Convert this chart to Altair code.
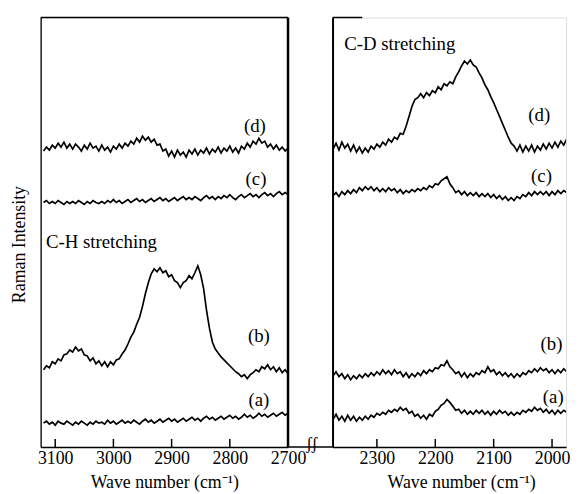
import altair as alt
import pandas as pd

FONT = "Liberation Serif"
FS_LAB = 18
FS_TITLE = 18
FS_TXT = 19

# ---------------- data ----------------
left_wn = list(range(3120, 2695, -5))  # 85 points, cm-1
left_d = [299, 303, 300, 305, 302, 307, 303, 308, 302, 306,
          301, 306, 303, 299, 305, 301, 307, 302, 304, 299,
          305, 300, 303, 298, 304, 301, 306, 302, 307, 304,
          309, 306, 312, 308, 314, 310, 313, 308, 311, 305,
          306, 299, 301, 294, 299, 293, 300, 295, 298, 293,
          300, 296, 301, 295, 300, 297, 302, 296, 301, 298,
          303, 297, 302, 299, 304, 298, 302, 297, 304, 301,
          307, 303, 309, 306, 312, 307, 309, 303, 306, 301,
          305, 300, 303, 299, 302]
left_c = [247, 249, 246, 248, 246, 249, 247, 245, 248, 246,
          248, 246, 249, 247, 245, 248, 246, 249, 247, 246,
          248, 246, 249, 247, 250, 247, 249, 246, 248, 250,
          247, 249, 251, 248, 250, 247, 249, 251, 248, 250,
          252, 249, 251, 248, 250, 252, 249, 251, 253, 250,
          252, 250, 253, 251, 249, 252, 254, 251, 253, 250,
          253, 251, 254, 252, 255, 252, 250, 253, 255, 252,
          254, 256, 253, 255, 252, 255, 257, 254, 256, 253,
          256, 258, 255, 257, 255]
left_b = [78, 82, 80, 86, 84, 89, 87, 93, 94, 98,
          96, 101, 97, 99, 93, 92, 87, 90, 84, 87,
          82, 86, 81, 86, 83, 88, 89, 94, 98, 104,
          111, 116, 124, 131, 142, 155, 166, 175, 180, 177,
          181, 176, 178, 172, 174, 168, 166, 161, 166, 168,
          173, 170, 176, 183, 174, 160, 138, 120, 106, 99,
          95, 91, 88, 85, 82, 79, 76, 74, 71, 73,
          69, 73, 75, 78, 76, 81, 79, 83, 78, 81,
          76, 80, 75, 78, 74]
left_a = [24, 26, 23, 25, 22, 26, 24, 23, 26, 24,
          22, 25, 23, 26, 24, 22, 25, 23, 26, 24,
          25, 23, 27, 24, 26, 23, 25, 27, 24, 26,
          24, 27, 25, 23, 26, 28, 25, 27, 24, 26,
          28, 25, 27, 29, 26, 28, 25, 27, 29, 26,
          28, 30, 27, 29, 26, 29, 31, 28, 30, 27,
          29, 31, 28, 30, 32, 29, 31, 28, 30, 33,
          30, 32, 29, 31, 34, 31, 33, 30, 32, 34,
          31, 33, 35, 32, 34]

right_wn = list(range(2375, 1970, -5))  # 81 points, cm-1
right_d = [301, 307, 300, 308, 302, 306, 299, 305, 298, 303,
           297, 302, 298, 304, 301, 306, 303, 308, 305, 311,
           308, 313, 311, 317, 316, 324, 334, 344, 351, 353,
           357, 353, 358, 355, 360, 358, 364, 361, 367, 365,
           369, 367, 374, 379, 385, 390, 387, 391, 386, 384,
           378, 373, 366, 361, 354, 348, 341, 334, 327, 320,
           313, 307, 304, 299, 305, 298, 304, 299, 305, 298,
           304, 300, 306, 301, 307, 302, 308, 303, 309, 305,
           311]
right_c = [254, 257, 253, 258, 255, 259, 256, 260, 257, 262,
           259, 263, 260, 263, 259, 262, 258, 261, 258, 262,
           259, 261, 257, 260, 256, 259, 257, 260, 258, 261,
           259, 262, 260, 264, 262, 266, 265, 269, 271, 273,
           266, 262, 257, 259, 255, 258, 254, 257, 254, 257,
           253, 256, 253, 256, 252, 255, 251, 254, 250, 253,
           249, 252, 249, 253, 251, 255, 253, 257, 254, 258,
           255, 258, 255, 258, 254, 258, 255, 259, 256, 259,
           257]
right_b = [72, 76, 71, 74, 69, 73, 68, 72, 69, 73,
           70, 74, 71, 75, 72, 76, 73, 78, 74, 77,
           73, 78, 74, 76, 71, 75, 70, 74, 71, 75,
           72, 77, 74, 78, 76, 80, 79, 83, 82, 87,
           81, 78, 74, 76, 71, 75, 70, 74, 71, 75,
           73, 77, 75, 81, 76, 78, 73, 76, 72, 75,
           71, 74, 70, 74, 71, 75, 73, 77, 75, 79,
           76, 80, 77, 79, 75, 78, 74, 78, 75, 79,
           76]
right_a = [28, 33, 27, 31, 26, 32, 27, 31, 26, 30,
           27, 31, 28, 32, 30, 34, 32, 35, 33, 37,
           35, 38, 36, 40, 37, 39, 34, 36, 31, 33,
           29, 32, 28, 33, 31, 36, 38, 42, 44, 48,
           45, 41, 37, 38, 34, 37, 33, 36, 33, 37,
           34, 37, 33, 36, 32, 36, 33, 37, 34, 36,
           32, 35, 32, 35, 33, 37, 35, 38, 36, 40,
           37, 39, 35, 38, 34, 37, 33, 37, 34, 37,
           35]

left_ticks = [3100, 3000, 2900, 2800, 2700]
right_ticks = [2300, 2200, 2100, 2000]

left_tags = ["(d)", "(c)", "(b)", "(a)"]
left_tag_wn = [2757, 2755, 2750, 2750]
left_tag_int = [324, 271, 112, 47]
left_head = ["C-H stretching"]
left_head_wn = [3116]
left_head_int = [207]

right_tags = ["(d)", "(c)", "(b)", "(a)"]
right_tag_wn = [2022, 2018, 2001, 1998]
right_tag_int = [335, 274, 104, 50]
right_head = ["C-D stretching"]
right_head_wn = [2356]
right_head_int = [407]

XTITLE = "Wave number (cm\u207b\u00b9)"
H = 434


def long_df(wn, series):
    rows = []
    for name, vals in series.items():
        for w, v in zip(wn, vals):
            rows.append({"wn": w, "I": v, "s": name})
    return pd.DataFrame(rows)


def panel(df, dom, ticks, width, tags, tag_wn, tag_int, head, head_wn, head_int,
          ytitle, is_left):
    xaxis = dict(values=ticks, ticks=False, tickSize=0, grid=False, labelFlush=False,
                 format="d", domainColor="black", domainWidth=1.5,
                 labelFont=FONT, labelFontSize=FS_LAB, labelColor="black",
                 labelPadding=3, title=XTITLE, titleFont=FONT,
                 titleFontSize=FS_TITLE, titleFontWeight="normal",
                 titleColor="black", titlePadding=6)
    if not is_left:
        xaxis.update(titleX=130)
    x_enc = alt.X("wn:Q",
                  scale=alt.Scale(domain=dom, nice=False, zero=False),
                  axis=alt.Axis(**xaxis))
    yaxis = dict(labels=False, ticks=False, tickSize=0, grid=False,
                 domainColor="black", domainWidth=1.3 if is_left else 2)
    if ytitle:
        yaxis.update(title=ytitle, titleFont=FONT, titleFontSize=FS_LAB,
                     titleFontWeight="normal", titleColor="black", titlePadding=12,
                     titleY=229)
        y_enc = alt.Y("I:Q", scale=alt.Scale(domain=[0, H], nice=False),
                      axis=alt.Axis(**yaxis))
    else:
        y_enc = alt.Y("I:Q", scale=alt.Scale(domain=[0, H], nice=False),
                      axis=alt.Axis(**yaxis), title=None)

    lines = alt.Chart(df).mark_line(color="black", strokeWidth=1.7, clip=True).encode(
        x=x_enc, y=y_enc, detail="s:N")
    tick_rules = alt.Chart(pd.DataFrame({"wn": ticks})).mark_rule(
        color="black", strokeWidth=1.5).encode(
        x=x_enc, y=alt.value(H), y2=alt.value(H - 8))
    tag_txt = alt.Chart(pd.DataFrame({"t": tags, "wn": tag_wn, "I": tag_int})).mark_text(
        font=FONT, fontSize=FS_TXT, color="black", align="center", baseline="middle").encode(
        x=x_enc, y=y_enc, text="t:N")
    head_txt = alt.Chart(pd.DataFrame({"t": head, "wn": head_wn, "I": head_int})).mark_text(
        font=FONT, fontSize=FS_TXT, color="black", align="left", baseline="middle").encode(
        x=x_enc, y=y_enc, text="t:N")
    one = pd.DataFrame({"k": [0]})
    layers = [lines, tick_rules, tag_txt, head_txt]
    if is_left:
        layers += [
            alt.Chart(one).mark_rule(color="black", strokeWidth=1.5).encode(
                x=alt.value(0), x2=alt.value(width), y=alt.value(0)),
            alt.Chart(one).mark_rule(color="black", strokeWidth=2.5).encode(
                x=alt.value(width), y=alt.value(0), y2=alt.value(H)),
            alt.Chart(one).mark_rule(color="black", strokeWidth=1.5).encode(
                x=alt.value(width), x2=alt.value(width + 45), y=alt.value(H)),
            alt.Chart(one).mark_text(text="\u0283\u0283", font=FONT, fontSize=17,
                                     color="black", align="center",
                                     baseline="middle").encode(
                x=alt.value(width + 24), y=alt.value(H - 3)),
        ]
    else:
        layers += [
            alt.Chart(one).mark_rule(color="black", strokeWidth=1.5).encode(
                x=alt.value(0), x2=alt.value(30), y=alt.value(0)),
        ]
    return alt.layer(*layers).properties(width=width, height=H)


left_df = long_df(left_wn, {"a": left_a, "b": left_b, "c": left_c, "d": left_d})
right_df = long_df(right_wn, {"a": right_a, "b": right_b, "c": right_c, "d": right_d})

left = panel(left_df, [3125, 2700], left_ticks, 250, left_tags, left_tag_wn, left_tag_int,
             left_head, left_head_wn, left_head_int, "Raman Intensity", True)
right = panel(right_df, [2376, 1976], right_ticks, 236, right_tags, right_tag_wn,
              right_tag_int, right_head, right_head_wn, right_head_int, None, False)

chart = alt.hconcat(left, right, spacing=45).properties(
    bounds="flush",
    padding={"left": 2, "top": 5, "right": 0, "bottom": 0},
).configure_view(stroke=None).configure(background="white")

chart.save("out.html", embed_options={"renderer": "svg", "actions": False})
